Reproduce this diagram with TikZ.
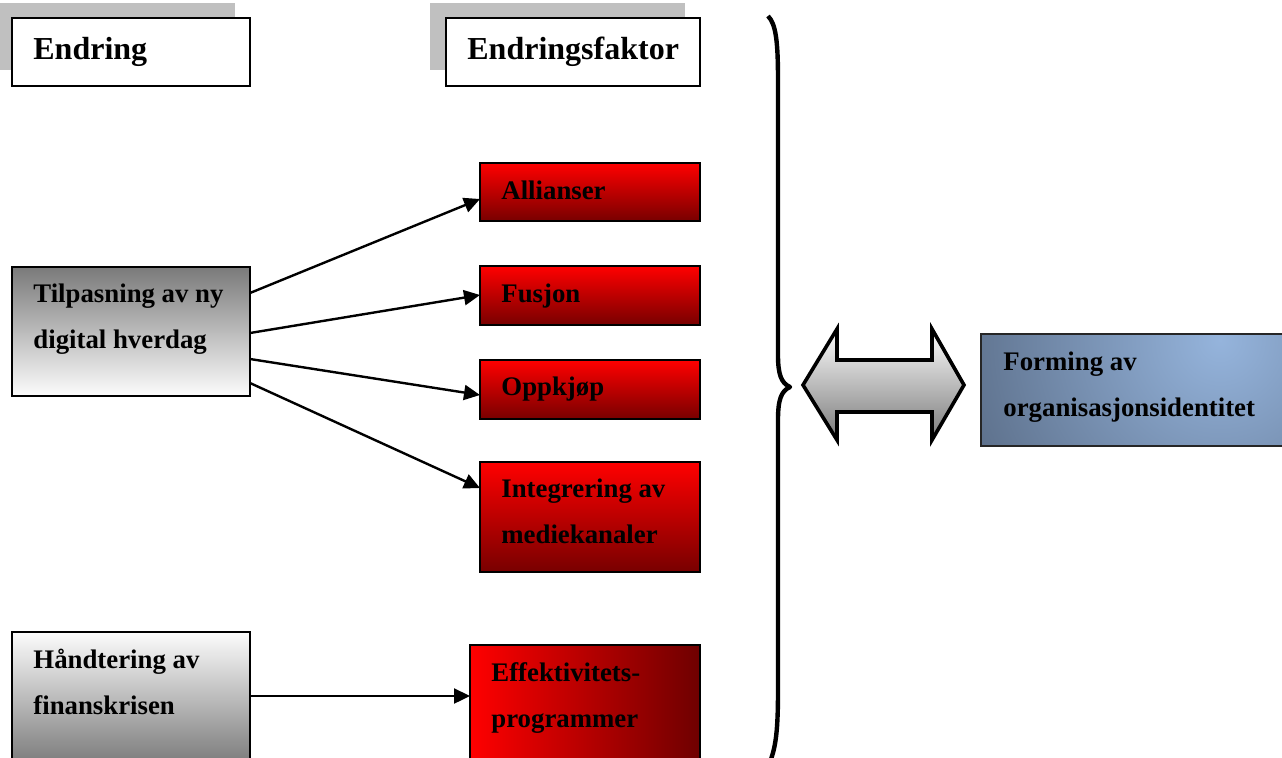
\documentclass[tikz,border=0pt]{standalone}
\usepackage{fontspec}
\setmainfont{Liberation Serif}
\usetikzlibrary{arrows.meta,calc,fit}

\definecolor{shadowgray}{HTML}{C0C0C0}
\definecolor{redtop}{HTML}{FF0000}
\definecolor{redbottom}{HTML}{780000}
\definecolor{graydark}{HTML}{7A7A7A}
\definecolor{graylight}{HTML}{FCFCFC}
\definecolor{formLight}{HTML}{95B4DC}
\definecolor{formDark}{HTML}{3F4C60}

% two stacked lines, baseline at the first one
\newcommand\twoline[2]{\vtop{\hbox{#1}\hbox{#2}}}

\tikzset{
  x=0.5pt, y=-0.5pt,
  boxbase/.style={inner sep=0pt, outer sep=0pt, draw=black, line width=1pt},
  headbox/.style={boxbase, fill=white, line width=1.2pt},
  redbox/.style={boxbase, top color=redtop, bottom color=redbottom},
  greyup/.style={boxbase, top color=graydark, bottom color=graylight},
  greydown/.style={boxbase, top color=graylight, bottom color=graydark},
  txt/.style={anchor=base west, inner sep=0pt,
    font=\bfseries\fontsize{13.4pt}{23.25pt}\selectfont},
  headtxt/.style={anchor=base west, inner sep=0pt,
    font=\bfseries\fontsize{16pt}{19pt}\selectfont},
  conn/.style={line width=1.2pt, -{Triangle[length=8pt,width=7.5pt]}},
}

\begin{document}
\begin{tikzpicture}
\useasboundingbox (0,0) rectangle (1282,757);
\clip (0,0) rectangle (1282,757);

% grey shadows behind the column headings
\fill[shadowgray] (0,3) rectangle (235,70);
\fill[shadowgray] (430,3) rectangle (685,70);

% column headings
\node (endr) [headbox, fit={(12,18) (250,86)}] {};
\node (fakt) [headbox, fit={(446,18) (700,86)}] {};
\node (endrT) [headtxt] at (33,59) {Endring};
\node (faktT) [headtxt] at (467,59) {Endringsfaktor};

% changes
\node (tilp) [greyup, fit={(12,267) (250,396)}] {};
\node (tilpT) [txt] at (33,302) {\twoline{Tilpasning av ny}{digital hverdag}};
\node (hand) [greydown, fit={(12,632) (250,765)}] {};
\node (handT) [txt] at (33,668) {\twoline{Håndtering av}{finanskrisen}};

% change factors
\node (all) [redbox, fit={(480,163) (700,221)}] {};
\node (allT) [txt] at (501,199) {Allianser};
\node (fus) [redbox, fit={(480,266) (700,325)}] {};
\node (fusT) [txt] at (501,302) {Fusjon};
\node (opp) [redbox, fit={(480,360) (700,419)}] {};
\node (oppT) [txt] at (501,395) {Oppkjøp};
\node (integ) [redbox, fit={(480,462) (700,572)}] {};
\node (integT) [txt] at (501,497) {\twoline{Integrering av}{mediekanaler}};
\node (eff) [boxbase, left color=redtop, right color=redbottom!92!black,
  fit={(470,645) (700,780)}] {};
\node (effT) [txt] at (491,681) {\twoline{Effektivitets-}{programmer}};

% result
\node (form) [boxbase, draw=black!85, fill=formDark,
  path picture={\shade[inner color=formLight, outer color=formDark]
    ($(path picture bounding box.north east)+(-80,6)$) circle (205pt);},
  fit={(981,334) (1300,446)}] {};
\node (formT) [txt] at (1003,370) {\twoline{Forming av}{organisasjonsidentitet}};

% connectors
\draw[conn] ($(tilp.east)+(0,-38.5)$) -- ($(all.west)+(0,7)$);
\draw[conn] ($(tilp.east)+(0,1.5)$) -- ($(fus.west)+(0,-0.5)$);
\draw[conn] ($(tilp.east)+(0,27.5)$) -- ($(opp.west)+(0,5.5)$);
\draw[conn] ($(tilp.east)+(0,51.5)$) -- ($(integ.west)+(0,-29)$);
\draw[conn] ($(hand.east)+(0,-2.5)$) -- ($(eff.west)+(0,-16.5)$);

% large right brace
\draw[line width=2.2pt, line join=round]
  (768,16) .. controls (776,24) and (778,42) .. (778,80)
  -- (778,355) .. controls (778,374) and (781,383) .. (790,387)
  .. controls (781,391) and (778,400) .. (778,420)
  -- (778,690) .. controls (778,730) and (776,746) .. (770,762);

% double-headed block arrow
\shade[top color=graylight, bottom color=graydark, draw=black,
  line width=1.8pt, line join=miter]
  (803,385) -- (837,329) -- (837,360) -- (932,360) -- (932,329)
  -- (964,385) -- (932,440) -- (932,412) -- (837,412) -- (837,440) -- cycle;
\end{tikzpicture}
\end{document}
